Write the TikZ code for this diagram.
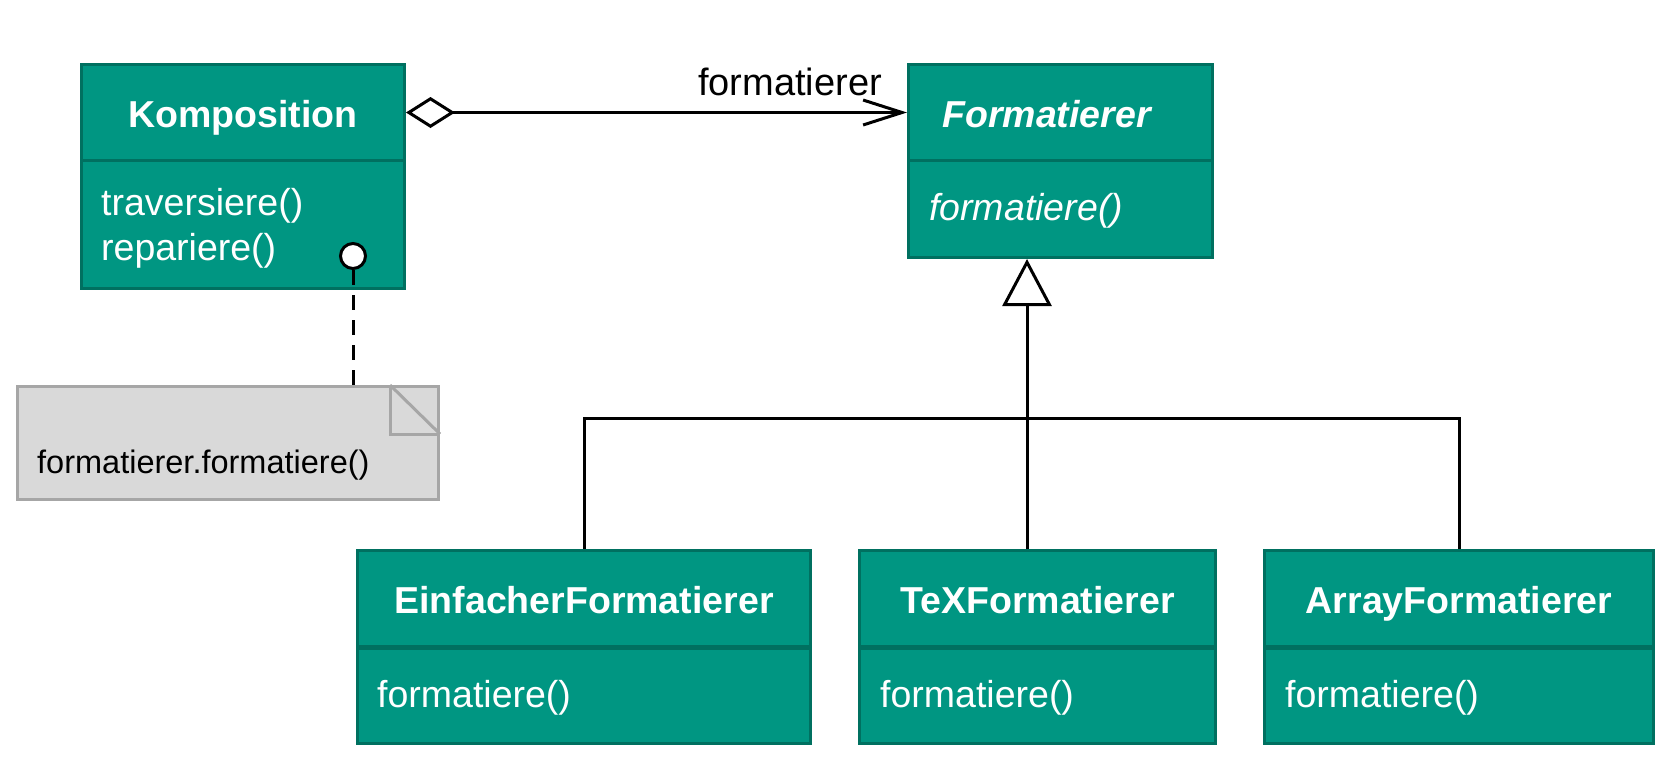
\documentclass[tikz,border=0pt]{standalone}
\usepackage{fontspec}
\setmainfont{Liberation Sans}
\usetikzlibrary{arrows.meta}
\definecolor{tealfill}{RGB}{0,150,130}
\definecolor{tealline}{RGB}{0,112,96}
\definecolor{notefill}{RGB}{217,217,217}
\definecolor{noteline}{RGB}{166,166,166}
\begin{document}
\begin{tikzpicture}[x=1pt,y=-1pt,
  cls/.style={draw=tealline, fill=tealfill, line width=3pt, rectangle, inner sep=0pt},
  ttl/.style={cls, font=\fontsize{37.5}{45}\selectfont\bfseries, text=white,
    text height=30pt, text depth=0pt, minimum height=96pt, anchor=north west},
  bdy/.style={cls, anchor=north west},
  meth/.style={font=\fontsize{37.5}{45}\selectfont, text=white, anchor=base west, inner sep=0pt},
  conn/.style={line width=3pt, draw=black},
]
\useasboundingbox (0,0) rectangle (1677,764);

% Komposition
\node[ttl, minimum width=323pt] (komp) at (80,63) {Komposition};
\node[bdy, minimum width=323pt, minimum height=128pt] (komp-body) at (80,159) {};
\node[meth] (komp-m1) at (101,215) {traversiere()};
\node[meth] (komp-m2) at (101,260) {repariere()};

% Formatierer
\node[ttl, minimum width=304pt, font=\fontsize{37.5}{45}\selectfont\bfseries\itshape] (fmt) at (907,63) {\hspace*{-28pt}Formatierer};
\node[bdy, minimum width=304pt, minimum height=97pt] (fmt-body) at (907,159) {};
\node[meth, font=\fontsize{37.5}{45}\selectfont\itshape] (fmt-m) at (929,220) {formatiere()};

% Subclasses
\node[ttl, minimum width=453pt] (ef) at (356,549) {EinfacherFormatierer};
\node[bdy, minimum width=453pt, minimum height=95pt] (ef-body) at (356,647) {};
\node[meth] (ef-m) at (377,707) {formatiere()};

\node[ttl, minimum width=356pt] (tex) at (858,549) {TeXFormatierer};
\node[bdy, minimum width=356pt, minimum height=95pt] (tex-body) at (858,647) {};
\node[meth] (tex-m) at (880,707) {formatiere()};

\node[ttl, minimum width=389pt] (arr) at (1263,549) {ArrayFormatierer};
\node[bdy, minimum width=389pt, minimum height=95pt] (arr-body) at (1263,647) {};
\node[meth] (arr-m) at (1285,707) {formatiere()};

% Note
\node[draw=noteline, fill=notefill, line width=3pt, minimum width=421pt, minimum height=113pt,
  anchor=north west, inner sep=0pt] (note) at (16,385) {};
\draw[noteline, line width=3pt] ([xshift=-50pt]note.north east) -- ++(0,49) -- ++(50,0);
\draw[noteline, line width=3pt] ([xshift=-50pt]note.north east) -- ([yshift=-49pt]note.north east);
\node[font=\fontsize{32.5}{39}\selectfont, anchor=base west, inner sep=0pt] (note-txt) at (37,473) {formatierer.formatiere()};

% Circle and dashed link
\node[circle, draw=black, fill=white, line width=3pt, minimum size=25pt, inner sep=0pt] (circ) at (353,256) {};
\draw[conn, dash pattern=on 15pt off 10pt] (circ.south) -- (circ.south |- note.north);

% Association
\draw[conn, {Diamond[open, length=49pt, width=31pt]}-{Straight Barb[length=39pt, width=25pt]}] (komp.east) -- (fmt.west);
\node[font=\fontsize{38}{45}\selectfont, anchor=base west, inner sep=0pt] (lbl) at (698,95) {formatierer};

% Inheritance
\coordinate (jn) at (1027,418);
\draw[conn, -{Triangle[open, length=47pt, width=49pt]}] (jn |- tex.north) -- (jn |- fmt-body.south);
\draw[conn] (ef.north) |- (jn) -| (arr.north);
\end{tikzpicture}
\end{document}
